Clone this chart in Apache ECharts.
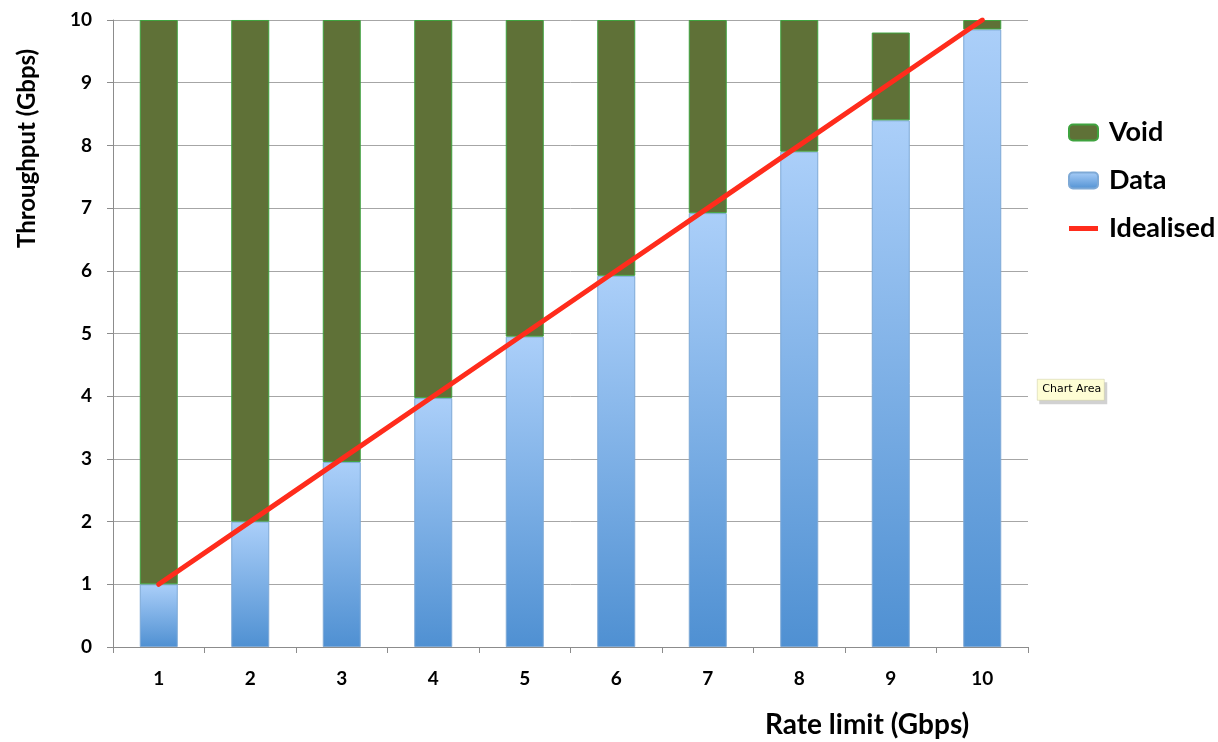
<!DOCTYPE html>
<html>
<head>
<meta charset="utf-8">
<script src="https://cdn.jsdelivr.net/npm/echarts@6/dist/echarts.min.js"></script>
<style>
html,body{margin:0;padding:0;background:#fff;}
#chart{width:1218px;height:742px;}
</style>
</head>
<body>
<div id="chart"></div>
<script>
const categories = ['1','2','3','4','5','6','7','8','9','10'];
const dataValues = [1.0, 2.0, 2.95, 3.97, 4.95, 5.92, 6.92, 7.9, 8.4, 9.85];
const voidValues = [9.0, 8.0, 7.05, 6.03, 5.05, 4.08, 3.08, 2.1, 1.4, 0.15];
const idealisedValues = [1, 2, 3, 4, 5, 6, 7, 8, 9, 10];
const yTicks = [0, 10, 1];

const FONT = 'Lato';
const chart = echarts.init(document.getElementById('chart'));
chart.setOption({
  animation: false,
  backgroundColor: '#ffffff',
  textStyle: { fontFamily: FONT },
  grid: { left: 113, right: 190, top: 20, bottom: 95, containLabel: false },
  legend: {
    orient: 'vertical',
    left: 1063,
    top: 114,
    itemWidth: 29,
    itemHeight: 16,
    itemGap: 21,
    data: [
      { name: 'Void' },
      { name: 'Data' },
      { name: 'Idealised', icon: 'path://M0,0 L0.01,0 M0,5.5 H29 V10.5 H0 Z M0,16 L0.01,16' }
    ],
    textStyle: { fontFamily: FONT, fontWeight: 'bold', fontSize: 27, color: '#000', padding: [0, 0, 0, 6] }
  },
  xAxis: {
    type: 'category',
    data: categories,
    boundaryGap: true,
    axisLine: { lineStyle: { color: '#8c8c8c', width: 1 } },
    axisTick: { show: true, length: 6, lineStyle: { color: '#8c8c8c' } },
    axisLabel: { color: '#000', fontWeight: 'bold', fontSize: 19, fontFamily: FONT, margin: 22 },
    splitLine: { show: false }
  },
  yAxis: {
    type: 'value',
    min: yTicks[0],
    max: yTicks[1],
    interval: yTicks[2],
    axisLine: { show: true, lineStyle: { color: '#8c8c8c', width: 1 } },
    axisTick: { show: true, length: 6, lineStyle: { color: '#8c8c8c' } },
    axisLabel: { color: '#000', fontWeight: 'bold', fontSize: 19, fontFamily: FONT, margin: 21 },
    splitLine: { show: true, lineStyle: { color: '#a6a6a6', width: 1 } }
  },
  series: [
    {
      name: 'Data',
      type: 'bar',
      stack: 'tp',
      barWidth: 38,
      data: dataValues,
      itemStyle: {
        color: new echarts.graphic.LinearGradient(0, 0, 0, 1, [
          { offset: 0, color: '#abcff9' },
          { offset: 1, color: '#4f90d2' }
        ]),
        borderColor: '#7ea9d6',
        borderWidth: 1
      },
      z: 2
    },
    {
      name: 'Void',
      type: 'bar',
      stack: 'tp',
      barWidth: 38,
      data: voidValues,
      itemStyle: { color: '#5f7137', borderColor: '#3fa33f', borderWidth: 1 },
      z: 2
    },
    {
      name: 'Idealised',
      type: 'line',
      data: idealisedValues,
      symbol: 'none',
      showSymbol: false,
      lineStyle: { color: '#ff2c1c', width: 5, cap: 'round' },
      itemStyle: { color: '#ff2c1c' },
      z: 5
    }
  ],
  graphic: [
    {
      type: 'text',
      left: 765,
      top: 711,
      style: { text: 'Rate limit (Gbps)', font: 'bold 28px ' + FONT, fill: '#000' }
    },
    {
      type: 'text',
      x: 15,
      y: 248,
      rotation: Math.PI / 2,
      style: { text: 'Throughput (Gbps)', font: 'bold 24px ' + FONT, fill: '#000' }
    },
    {
      type: 'group',
      left: 1037,
      top: 379,
      children: [
        { type: 'rect', shape: { x: 2, y: 3, width: 68, height: 22 }, style: { fill: 'rgba(0,0,0,0.18)' } },
        { type: 'rect', shape: { x: 0, y: 0, width: 67, height: 21 }, style: { fill: '#fefdd4', stroke: '#c8c8a0', lineWidth: 0.5 } },
        { type: 'text', x: 5, y: 4, style: { text: 'Chart Area', font: '11px "DejaVu Sans"', fill: '#000' } }
      ]
    }
  ]
});
</script>
</body>
</html>
